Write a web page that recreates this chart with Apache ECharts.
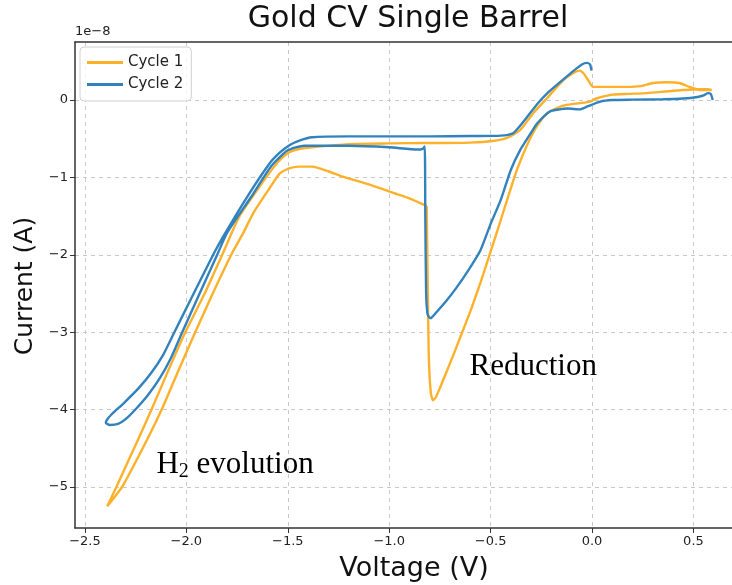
<!DOCTYPE html>
<html>
<head>
<meta charset="utf-8">
<script src="https://cdn.jsdelivr.net/npm/echarts@6/dist/echarts.min.js"></script>
<style>
html,body{margin:0;padding:0;background:#fff;}
#chart{width:732px;height:585px;}
</style>
</head>
<body>
<div id="chart"></div>
<script>
// Voltage (V) and current (units of 1e-8 A)
const cycle1V = [-0.815,-0.81,-0.805,-0.795,-0.784,-0.77,-0.75,-0.72,-0.68,-0.64,-0.60,-0.55,-0.50,-0.45,-0.41,-0.37,-0.32,-0.27,-0.22,-0.17,-0.12,-0.06,-0.01,0.02,0.10,0.18,0.27,0.40,0.53,0.57,0.59,
  0.57,0.53,0.48,0.43,0.37,0.30,0.24,0.17,0.10,0.005,-0.02,-0.04,-0.06,-0.085,-0.14,-0.22,-0.29,-0.355,-0.42,-0.49,-0.6,-0.8,-1.0,-1.2,-1.38,-1.44,-1.49,-1.53,-1.57,-1.65,-1.74,-1.82,-1.91,-2.007,-2.09,-2.17,-2.235,-2.345,-2.39,
  -2.317,-2.19,-2.12,-2.04,-1.958,-1.87,-1.775,-1.72,-1.67,-1.59,-1.54,-1.49,-1.44,-1.38,-1.30,-1.23,-1.1,-0.98,-0.9,-0.815];
const cycle1I = [-1.37,-2.4,-3.3,-3.78,-3.88,-3.84,-3.72,-3.53,-3.27,-3.0,-2.73,-2.36,-1.96,-1.55,-1.22,-0.9,-0.58,-0.33,-0.17,-0.10,-0.06,-0.04,-0.02,0.02,0.07,0.08,0.09,0.12,0.14,0.14,0.13,
  0.13,0.13,0.17,0.22,0.23,0.22,0.18,0.17,0.17,0.17,0.26,0.34,0.38,0.36,0.26,0.03,-0.17,-0.39,-0.49,-0.53,-0.55,-0.555,-0.56,-0.57,-0.61,-0.63,-0.67,-0.75,-0.87,-1.16,-1.51,-1.98,-2.5,-3.01,-3.5,-3.99,-4.37,-5.0,-5.25,
  -5.0,-4.37,-3.99,-3.5,-3.01,-2.5,-1.98,-1.72,-1.46,-1.14,-0.95,-0.88,-0.86,-0.86,-0.92,-0.99,-1.09,-1.20,-1.27,-1.37];
const cycle2V = [-0.003,-0.01,-0.025,-0.05,-0.09,-0.14,-0.22,-0.27,-0.32,-0.36,-0.39,-0.45,-0.6,-0.8,-1.0,-1.2,-1.38,-1.44,-1.49,-1.54,-1.59,-1.70,-1.82,-1.864,-1.962,-2.061,-2.115,-2.17,-2.234,-2.308,-2.367,-2.392,-2.397,-2.377,-2.337,-2.298,-2.249,-2.189,-2.13,-2.076,-2.022,-1.938,-1.844,-1.80,-1.68,-1.58,-1.50,-1.42,-1.2,-1.0,-0.86,-0.835,-0.825,-0.822,-0.818,-0.812,-0.805,-0.795,-0.78,-0.72,-0.67,-0.61,-0.55,-0.50,-0.45,-0.40,-0.355,-0.30,-0.27,-0.21,-0.16,-0.12,-0.06,-0.02,0.04,0.10,0.20,0.35,0.45,0.52,0.55,0.57,0.585,0.595];
const cycle2I = [0.38,0.46,0.48,0.46,0.38,0.27,0.09,-0.05,-0.22,-0.35,-0.43,-0.46,-0.465,-0.47,-0.47,-0.47,-0.48,-0.52,-0.58,-0.68,-0.82,-1.25,-1.77,-1.98,-2.49,-3.01,-3.295,-3.514,-3.72,-3.915,-4.057,-4.134,-4.17,-4.199,-4.186,-4.12,-3.992,-3.811,-3.591,-3.333,-3.01,-2.519,-1.976,-1.72,-1.25,-0.85,-0.65,-0.59,-0.59,-0.61,-0.64,-0.63,-0.60,-1.5,-2.5,-2.75,-2.80,-2.82,-2.78,-2.6,-2.43,-2.2,-1.94,-1.6,-1.29,-0.9,-0.65,-0.42,-0.30,-0.15,-0.12,-0.11,-0.12,-0.08,-0.02,0.0,0.005,0.01,0.02,0.04,0.06,0.09,0.08,0.0];
const xTicks = [-2.5,-2.0,-1.5,-1.0,-0.5,0.0,0.5];
const yTicks = [-5,-4,-3,-2,-1,0];
const seriesNames = ['Cycle 1','Cycle 2'];
const colors = ['#FDB12A','#3282BD'];

const pair = (vs, is) => vs.map((v,i)=>[v, is[i]]);
const minus = s => String(s).replace('-', '\u2212');

const chart = echarts.init(document.getElementById('chart'));
const FONT = 'DejaVu Sans';
const tickFont = {fontFamily:FONT, fontSize:13, color:'#222'};
const spine = {color:'#333', width:1.5};
const option = {
  animation:false,
  grid:{left:75, top:42, right:0, bottom:57, show:false},
  legend:{data:seriesNames, orient:'vertical', left:80, top:47, padding:[8,8,9,7], itemGap:7,
    icon:'rect', itemWidth:36, itemHeight:3, borderColor:'#d0d0d0', borderWidth:1, borderRadius:4,
    backgroundColor:'rgba(255,255,255,0.85)',
    textStyle:{fontFamily:FONT, fontSize:15, color:'#222'}},
  xAxis:[{type:'value', min:-2.549, max:0.69, position:'bottom',
    axisLine:{onZero:false, lineStyle:spine},
    axisTick:{show:true, inside:false, length:5, customValues:xTicks, lineStyle:{color:'#333'}},
    axisLabel:{customValues:xTicks, formatter:v=>minus(v.toFixed(1)), margin:7, ...tickFont},
    splitLine:{show:true, lineStyle:{color:'#c8c8c8', type:[4,4], width:1}}},
    {type:'value', min:-2.549, max:0.69, position:'top',
    axisLine:{onZero:false, lineStyle:spine}, axisTick:{show:false}, axisLabel:{show:false}, splitLine:{show:false}}],
  yAxis:{type:'value', min:-5.53, max:0.75,
    axisLine:{onZero:false, lineStyle:spine},
    axisTick:{show:true, inside:false, length:5, customValues:yTicks, lineStyle:{color:'#333'}},
    axisLabel:{customValues:yTicks, formatter:v=>minus(v), margin:7, ...tickFont},
    splitLine:{show:true, lineStyle:{color:'#c8c8c8', type:[4,4], width:1}}},
  series:[
    {name:seriesNames[0], type:'line', data:pair(cycle1V,cycle1I), showSymbol:false, smooth:0.2,
      lineStyle:{color:colors[0], width:2.4}, itemStyle:{color:colors[0]}, z:2},
    {name:seriesNames[1], type:'line', data:pair(cycle2V,cycle2I), showSymbol:false, smooth:0.2,
      lineStyle:{color:colors[1], width:2.4}, itemStyle:{color:colors[1]}, z:3}
  ]
};
chart.setOption(option);

const pRed = chart.convertToPixel({gridIndex:0}, [-0.29, -3.45]);
const pH2 = chart.convertToPixel({gridIndex:0}, [-1.76, -4.72]);
chart.setOption({graphic:[
  {type:'text', x:408, y:19, style:{text:'Gold CV Single Barrel', font:'30px "DejaVu Sans"', fill:'#111', align:'center', verticalAlign:'middle'}},
  {type:'text', x:414, y:569, style:{text:'Voltage (V)', font:'27px "DejaVu Sans"', fill:'#111', align:'center', verticalAlign:'middle'}},
  {type:'text', x:25, y:286, rotation:Math.PI/2, style:{text:'Current (A)', font:'25px "DejaVu Sans"', fill:'#111', align:'center', verticalAlign:'middle'}},
  {type:'text', x:75, y:32, style:{text:'1e\u22128', font:'13px "DejaVu Sans"', fill:'#222', align:'left', verticalAlign:'middle'}},
  {type:'text', x:pRed[0], y:pRed[1], style:{text:'Reduction', font:'31px "Liberation Serif"', fill:'#000', align:'center', verticalAlign:'middle'}},
  {type:'text', x:pH2[0], y:pH2[1], style:{
    text:'{a|H}{s|2}{a| evolution}', align:'center', verticalAlign:'middle',
    rich:{a:{fontFamily:'Liberation Serif', fontSize:31, color:'#000'},
          s:{fontFamily:'Liberation Serif', fontSize:20, color:'#000', padding:[12,0,0,0]}}}}
]});
</script>
</body>
</html>
